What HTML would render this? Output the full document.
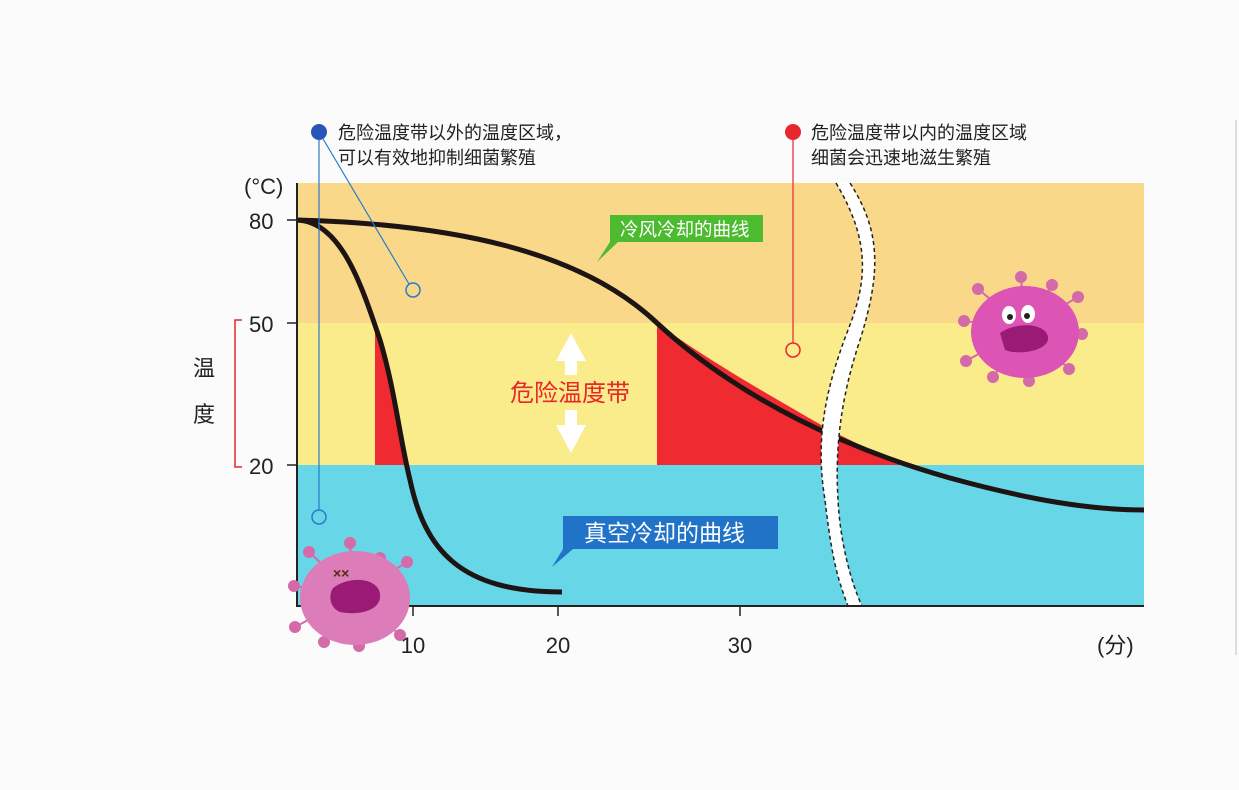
<!DOCTYPE html>
<html><head><meta charset="utf-8"><style>
body{margin:0;background:#fcfbfc;}
svg{display:block;font-family:"Liberation Sans","Noto Sans CJK SC",sans-serif;}
</style></head><body>
<svg width="1239" height="790" viewBox="0 0 1239 790">
<rect x="0" y="0" width="1239" height="790" fill="#fcfbfc"/>
<line x1="1236" y1="120" x2="1236" y2="655" stroke="#ddd" stroke-width="2"/>
<rect x="297" y="183" width="847" height="140" fill="#fad88a"/>
<rect x="297" y="323" width="847" height="142" fill="#fbec8b"/>
<rect x="297" y="465" width="847" height="141" fill="#67d7e8"/>
<path d="M375 330 C390 360 398 410 405 465 L375 465 Z" fill="#ef2b31"/>
<path d="M657 323 C700 355 760 390 830 430 C860 445 880 455 905 465 L657 465 Z" fill="#ef2b31"/>
<path d="M297 220 C340 222 360 280 380 340 C395 390 400 440 410 480 C425 550 460 592 562 592" fill="none" stroke="#1e1414" stroke-width="5"/>
<path d="M297 220 C450 224 580 250 657 323 C740 400 850 450 950 478 C1030 500 1090 510 1144 510" fill="none" stroke="#1e1414" stroke-width="5"/>
<path d="M836 183 C870 240 868 280 848 330 C825 390 815 440 825 500 C832 560 838 580 848 606 L862 606 C850 580 840 540 838 500 C835 450 840 400 860 340 C882 270 880 230 850 183 Z" fill="#fff"/>
<path d="M836 183 C870 240 868 280 848 330 C825 390 815 440 825 500 C832 560 838 580 848 606" fill="none" stroke="#222" stroke-width="1.5" stroke-dasharray="4 3"/>
<path d="M850 183 C880 230 882 270 860 340 C840 400 835 450 838 500 C840 540 850 580 862 606" fill="none" stroke="#222" stroke-width="1.5" stroke-dasharray="4 3"/>
<line x1="297" y1="183" x2="297" y2="607" stroke="#222" stroke-width="2"/>
<line x1="296" y1="606" x2="1144" y2="606" stroke="#222" stroke-width="2"/>
<line x1="287" y1="220" x2="297" y2="220" stroke="#222" stroke-width="1.5"/>
<line x1="287" y1="323" x2="297" y2="323" stroke="#222" stroke-width="1.5"/>
<line x1="287" y1="465" x2="297" y2="465" stroke="#222" stroke-width="1.5"/>
<line x1="413" y1="606" x2="413" y2="616" stroke="#222" stroke-width="1.5"/>
<line x1="558" y1="606" x2="558" y2="616" stroke="#222" stroke-width="1.5"/>
<line x1="740" y1="606" x2="740" y2="616" stroke="#222" stroke-width="1.5"/>
<g font-size="22" fill="#222">
<text x="244" y="194">(°C)</text>
<text x="249" y="229">80</text>
<text x="249" y="332">50</text>
<text x="249" y="474">20</text>
<text x="413" y="653" text-anchor="middle">10</text>
<text x="558" y="653" text-anchor="middle">20</text>
<text x="740" y="653" text-anchor="middle">30</text>
<text x="1097" y="653">(分)</text>
<text x="193" y="376">温</text>
<text x="193" y="422">度</text>
</g>
<path d="M242 320 H235 V467 H242" fill="none" stroke="#e8262d" stroke-width="1.5"/>
<line x1="319" y1="132" x2="319" y2="510" stroke="#2a7acb" stroke-width="1.2"/>
<line x1="319" y1="132" x2="409" y2="284" stroke="#2a7acb" stroke-width="1.2"/>
<circle cx="319" cy="132" r="8" fill="#2a55b8"/>
<circle cx="319" cy="517" r="7" fill="none" stroke="#2a7acb" stroke-width="1.5"/>
<circle cx="413" cy="290" r="7" fill="none" stroke="#2a7acb" stroke-width="1.5"/>
<line x1="793" y1="132" x2="793" y2="343" stroke="#e8262d" stroke-width="1.2"/>
<circle cx="793" cy="132" r="8" fill="#e8262d"/>
<circle cx="793" cy="350" r="7" fill="none" stroke="#e8262d" stroke-width="1.5"/>
<g font-size="18" fill="#222">
<text x="338" y="139">危险温度带以外的温度区域，</text>
<text x="338" y="164">可以有效地抑制细菌繁殖</text>
<text x="811" y="139">危险温度带以内的温度区域</text>
<text x="811" y="164">细菌会迅速地滋生繁殖</text>
</g>
<path d="M610 215 H763 V242 H618 L597 262 L610 242 Z" fill="#4cbb2f"/>
<text x="620" y="236" font-size="18.5" fill="#fff">冷风冷却的曲线</text>
<path d="M563 516 H778 V549 H573 L552 567 L563 549 Z" fill="#2173c8"/>
<text x="584" y="541" font-size="23" fill="#fff">真空冷却的曲线</text>
<path d="M571 333 L586 361 H577 V375 H565 V361 H556 Z" fill="#fff"/>
<path d="M571 453 L586 425 H577 V410 H565 V425 H556 Z" fill="#fff"/>
<text x="570" y="401" font-size="24" fill="#e8262d" text-anchor="middle">危险温度带</text>
<g>
<g stroke="#d56aa8" stroke-width="2" fill="#d56aa8">
<line x1="355" y1="595" x2="350" y2="545"/><circle cx="350" cy="543" r="5"/>
<line x1="355" y1="595" x2="309" y2="552"/><circle cx="309" cy="552" r="5"/>
<line x1="355" y1="595" x2="380" y2="558"/><circle cx="380" cy="558" r="5"/>
<line x1="355" y1="595" x2="407" y2="562"/><circle cx="407" cy="562" r="5"/>
<line x1="355" y1="595" x2="294" y2="586"/><circle cx="294" cy="586" r="5"/>
<line x1="355" y1="595" x2="295" y2="627"/><circle cx="295" cy="627" r="5"/>
<line x1="355" y1="595" x2="324" y2="642"/><circle cx="324" cy="642" r="5"/>
<line x1="355" y1="595" x2="359" y2="646"/><circle cx="359" cy="646" r="5"/>
<line x1="355" y1="595" x2="400" y2="635"/><circle cx="400" cy="635" r="5"/>
</g>
<ellipse cx="355" cy="598" rx="55" ry="47" fill="#dc7cb8"/>
<path d="M333 588 C350 575 378 578 380 594 C382 610 360 616 340 612 C330 608 328 596 333 588 Z" fill="#9a1a76"/>
<text x="333" y="578" font-size="14" fill="#5a2a10" font-weight="bold">××</text>
</g>
<g>
<g stroke="#d56aa8" stroke-width="2" fill="#d56aa8">
<line x1="1025" y1="328" x2="1021" y2="277"/><circle cx="1021" cy="277" r="5"/>
<line x1="1025" y1="328" x2="978" y2="289"/><circle cx="978" cy="289" r="5"/>
<line x1="1025" y1="328" x2="1052" y2="285"/><circle cx="1052" cy="285" r="5"/>
<line x1="1025" y1="328" x2="1078" y2="297"/><circle cx="1078" cy="297" r="5"/>
<line x1="1025" y1="328" x2="964" y2="321"/><circle cx="964" cy="321" r="5"/>
<line x1="1025" y1="328" x2="1082" y2="334"/><circle cx="1082" cy="334" r="5"/>
<line x1="1025" y1="328" x2="966" y2="361"/><circle cx="966" cy="361" r="5"/>
<line x1="1025" y1="328" x2="993" y2="377"/><circle cx="993" cy="377" r="5"/>
<line x1="1025" y1="328" x2="1029" y2="381"/><circle cx="1029" cy="381" r="5"/>
<line x1="1025" y1="328" x2="1069" y2="369"/><circle cx="1069" cy="369" r="5"/>
</g>
<ellipse cx="1025" cy="332" rx="54" ry="46" fill="#dc54b4"/>
<ellipse cx="1009" cy="315" rx="7" ry="9" fill="#fff"/><ellipse cx="1028" cy="314" rx="7" ry="9" fill="#fff"/>
<circle cx="1010" cy="317" r="3" fill="#222"/><circle cx="1027" cy="316" r="3" fill="#222"/>
<path d="M1000 333 C1015 322 1045 322 1048 337 C1050 350 1020 356 1005 350 Z" fill="#9a1a76"/>
</g>
</svg>
</body></html>
